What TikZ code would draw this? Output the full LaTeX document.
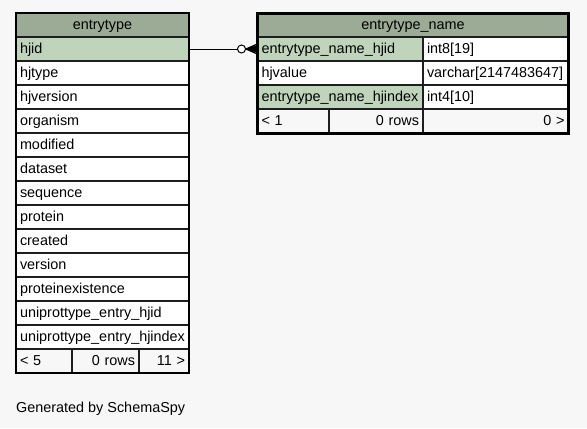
\documentclass[tikz,border=0pt]{standalone}
\usepackage{fontspec}
\setmainfont{Liberation Sans}
\usetikzlibrary{calc}
\definecolor{hdrfill}{HTML}{9BAB96}
\definecolor{keyfill}{HTML}{BFD4BB}
\definecolor{pagebg}{HTML}{F7F7F7}
\definecolor{rowrule}{HTML}{1E1E1E}
\tikzset{
	cell/.style={draw=rowrule,line width=1.2bp,fill=white,anchor=north west,outer sep=0pt,
		minimum height=24bp,inner xsep=4bp,inner ysep=0pt,text height=11bp,text depth=3bp,
		text width=#1,align=left},
	hdr/.style={cell=#1,fill=hdrfill,align=center},
	keycell/.style={cell=#1,fill=keyfill},
	foot/.style={cell=#1,fill=pagebg},
	footr/.style={foot=#1,align=right},
}
\begin{document}
\begin{tikzpicture}[x=1bp,y=-1bp,font=\fontsize{14.4bp}{16bp}\selectfont]
	\useasboundingbox (0,0) rectangle (587,428);
	\fill[pagebg] (0,0) rectangle (587,428);
	% entrytype
	\node[hdr=165bp] (ethead) at (16,13) {entrytype};
	\node[keycell=165bp] (ethjid) at (16,37) {hjid};
	\foreach \fld [count=\i] in {hjtype,hjversion,organism,modified,dataset,sequence,protein,created,version,proteinexistence,uniprottype\_entry\_hjid,uniprottype\_entry\_hjindex}
		\node[cell=165bp] (et\i) at (16,{37+24*\i}) {\fld};
	\node[foot=48bp] (etf1) at (16,349) {< 5};
	\node[footr=59bp] (etf2) at (72,349) {0 rows};
	\node[footr=42bp] (etf3) at (139,349) {11 >};
	\draw[line width=1.5bp] (ethead.north west) rectangle (etf3.south east);
	% entrytype_name
	\node[hdr=303bp] (etnhead) at (257.5,13) {entrytype\_name};
	\node[keycell=157.5bp] (etnhjid) at (257.5,37) {entrytype\_name\_hjid};
	\node[cell=137.5bp] (etnhjidt) at (423,37) {int8[19]};
	\node[cell=157.5bp] (etnval) at (257.5,61) {hjvalue};
	\node[cell=137.5bp] (etnvalt) at (423,61) {varchar[2147483647]};
	\node[keycell=157.5bp] (etnidx) at (257.5,85) {entrytype\_name\_hjindex};
	\node[cell=137.5bp] (etnidxt) at (423,85) {int4[10]};
	\node[foot=63.5bp] (etnf1) at (257.5,109) {< 1};
	\node[footr=86bp] (etnf2) at (329,109) {0 rows};
	\node[footr=137.5bp] (etnf3) at (423,109) {0 >};
	\draw[line width=3bp] (etnhead.north west) rectangle (etnf3.south east);
	% zero or many
	\draw[line width=1bp] (ethjid.east) -- (etnhjid.west);
	\fill ($(etnhjid.west)+(-11.5,0)$) -- ($(etnhjid.west)+(0,-4)$) -- ($(etnhjid.west)+(0,4)$) -- cycle;
	\foreach \dy in {-5,0,5}
		\draw[line width=1.3bp] ($(etnhjid.west)+(-11.5,0)$) -- ($(etnhjid.west)+(0,\dy)$);
	\draw[line width=1bp,fill=white] ($(etnhjid.west)+(-16,0)$) circle[radius=4bp];
	\node[anchor=base west,inner sep=0pt] (credit) at (16,412) {Generated by SchemaSpy};
\end{tikzpicture}
\end{document}
